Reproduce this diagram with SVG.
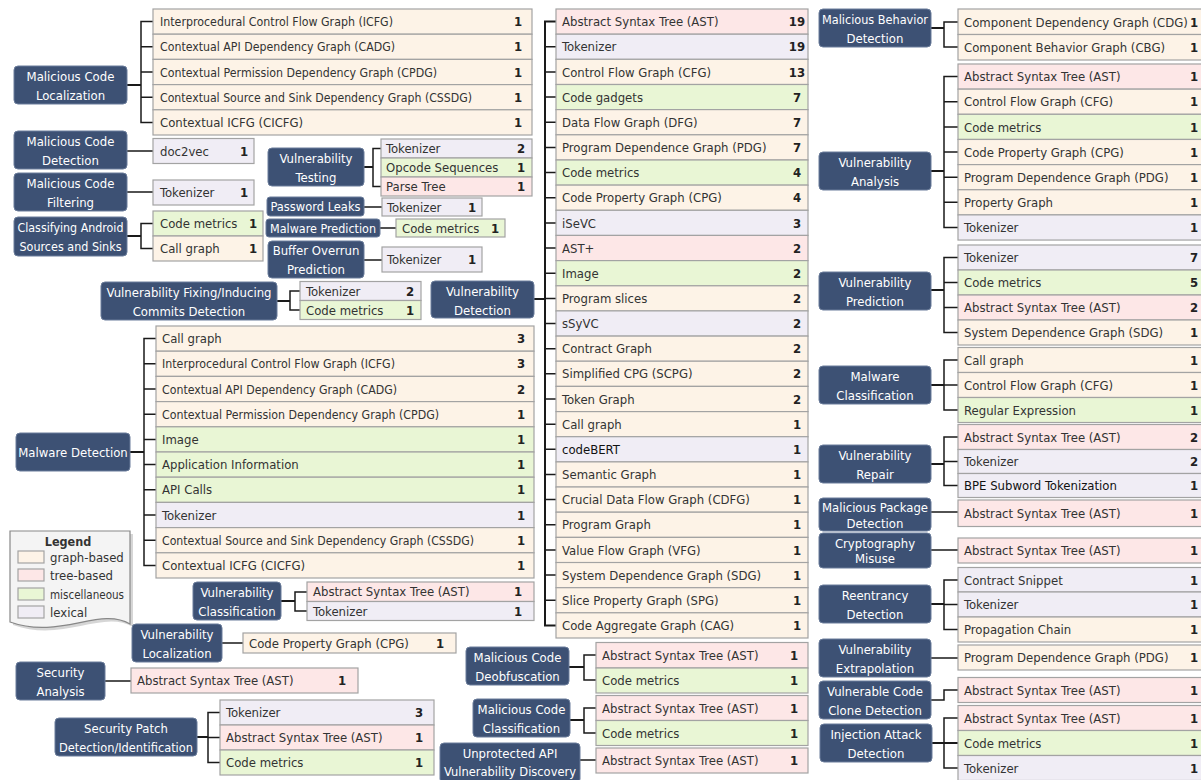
<svg xmlns="http://www.w3.org/2000/svg" width="1201" height="780" viewBox="0 0 1201 780">
<style>
text{font-family:"Liberation Sans Narrow","DejaVu Sans Condensed","Roboto Condensed",sans-serif;font-size:13px}
.g{fill:#fdf3e7;stroke:#a3a3a3;stroke-width:1.2}
.t{fill:#fde7e7;stroke:#a3a3a3;stroke-width:1.2}
.m{fill:#e9f6d5;stroke:#a3a3a3;stroke-width:1.2}
.l{fill:#f0edf5;stroke:#a3a3a3;stroke-width:1.2}
.nd{fill:#3d5174;stroke:#6b7d9b;stroke-width:1}
.nt{fill:#fff;text-anchor:middle}
.lb{fill:#333}
.ct{fill:#222;font-weight:bold;text-anchor:middle}
.cn{fill:none;stroke:#1a1a1a;stroke-width:1.5}
.nl{fill:none;stroke:#1a1a1a;stroke-width:2}
</style>

<g id="connectors">
<path class="cn" d="M153,21.6H141V122.4H153M141,46.8H153M141,72H153M141,97.2H153"/>
<path class="nl" d="M127,85H141"/>
<path class="cn" d="M127,151H153M127,192H153"/>
<path class="cn" d="M153,223.5H141V248.5H153"/>
<path class="nl" d="M127,236H141"/>
<path class="cn" d="M381,148.5H373V186.5H381"/>
<path class="nl" d="M364,167H373"/>
<path class="cn" d="M364,207H382M380,228H396M364,260H382"/>
<path class="cn" d="M300,291H290V310H300"/>
<path class="nl" d="M277,301H290"/>
<path class="nl" d="M556,21.6H545V625.4H556M534,299H545"/>
<path class="cn" d="M545,46.8H556M545,71.9H556M545,97.1H556M545,122.2H556M545,147.4H556M545,172.6H556M545,197.7H556M545,222.9H556M545,248H556M545,273.2H556M545,298.4H556M545,323.5H556M545,348.7H556M545,373.8H556M545,399H556M545,424.2H556M545,449.3H556M545,474.5H556M545,499.6H556M545,524.8H556M545,550H556M545,575.1H556M545,600.3H556"/>
<path class="cn" d="M156,338.6H144V565.4H156M144,363.8H156M144,389H156M144,414.2H156M144,439.4H156M144,464.6H156M144,489.8H156M144,515H156M144,540.2H156"/>
<path class="nl" d="M130,452H144"/>
<path class="cn" d="M307,592H295V611H307"/>
<path class="nl" d="M281,601H295"/>
<path class="cn" d="M222,643H243M105,681H131"/>
<path class="cn" d="M220,712.5H208V762.5H220M208,737.5H220"/>
<path class="nl" d="M197,737H208"/>
<path class="cn" d="M596,655H584V680H596M596,708H584V733H596"/>
<path class="nl" d="M569,667H584M570,720H584"/>
<path class="cn" d="M580,760H596"/>
<path class="cn" d="M958,22H944V47H958"/>
<path class="nl" d="M931,28H944"/>
<path class="cn" d="M958,76.6H944V227.5H958M944,101.7H958M944,126.9H958M944,152H958M944,177.2H958M944,202.3H958"/>
<path class="nl" d="M931,171H944"/>
<path class="cn" d="M958,257.5H944V332.5H958M944,282.5H958M944,307.5H958"/>
<path class="nl" d="M931,290H944"/>
<path class="cn" d="M958,360H944V410H958M944,385H958"/>
<path class="nl" d="M931,385H944"/>
<path class="cn" d="M958,437H944V485.5H958M944,461.5H958"/>
<path class="nl" d="M931,464H944"/>
<path class="cn" d="M931,512H958M931,550H958"/>
<path class="cn" d="M958,580H944V629.5H958M944,604.5H958"/>
<path class="nl" d="M931,604H944"/>
<path class="cn" d="M931,658H958M931,700H944V690H958"/>
<path class="cn" d="M958,718H944V768H958"/>
<path class="nl" d="M932,743H958"/>
</g>

<g id="n-mcl">
<rect class="nd" x="14" y="66" width="113" height="38" rx="4"/>
<text class="nt" x="70.5" y="81">Malicious Code</text><text class="nt" x="70.5" y="100">Localization</text>
<rect class="g" x="153" y="9" width="379" height="25.2"/><text class="lb" x="160" y="26.2" textLength="233" lengthAdjust="spacingAndGlyphs">Interprocedural Control Flow Graph (ICFG)</text><text class="ct" x="518" y="26.2">1</text>
<rect class="g" x="153" y="34.2" width="379" height="25.2"/><text class="lb" x="160" y="51.4" textLength="235" lengthAdjust="spacingAndGlyphs">Contextual API Dependency Graph (CADG)</text><text class="ct" x="518" y="51.4">1</text>
<rect class="g" x="153" y="59.4" width="379" height="25.2"/><text class="lb" x="160" y="76.6" textLength="277" lengthAdjust="spacingAndGlyphs">Contextual Permission Dependency Graph (CPDG)</text><text class="ct" x="518" y="76.6">1</text>
<rect class="g" x="153" y="84.6" width="379" height="25.2"/><text class="lb" x="160" y="101.8" textLength="312" lengthAdjust="spacingAndGlyphs">Contextual Source and Sink Dependency Graph (CSSDG)</text><text class="ct" x="518" y="101.8">1</text>
<rect class="g" x="153" y="109.8" width="379" height="25.2"/><text class="lb" x="160" y="127">Contextual ICFG (CICFG)</text><text class="ct" x="518" y="127">1</text>
</g>

<g id="n-mcd">
<rect class="nd" x="14" y="131" width="113" height="38" rx="4"/>
<text class="nt" x="70.5" y="146">Malicious Code</text><text class="nt" x="70.5" y="165">Detection</text>
<rect class="l" x="153" y="138.5" width="101" height="25"/><text class="lb" x="160" y="155.5">doc2vec</text><text class="ct" x="244" y="155.5">1</text>
</g>

<g id="n-mcf">
<rect class="nd" x="14" y="173" width="113" height="38" rx="4"/>
<text class="nt" x="70.5" y="188">Malicious Code</text><text class="nt" x="70.5" y="207">Filtering</text>
<rect class="l" x="153" y="180" width="101" height="25"/><text class="lb" x="160" y="197">Tokenizer</text><text class="ct" x="244" y="197">1</text>
</g>

<g id="n-cas">
<rect class="nd" x="14" y="217" width="113" height="39" rx="4"/>
<text class="nt" x="70.5" y="232" textLength="106" lengthAdjust="spacingAndGlyphs">Classifying Android</text><text class="nt" x="70.5" y="251" textLength="102" lengthAdjust="spacingAndGlyphs">Sources and Sinks</text>
<rect class="m" x="153" y="211" width="110" height="25"/><text class="lb" x="160" y="228">Code metrics</text><text class="ct" x="253" y="228">1</text>
<rect class="g" x="153" y="236" width="110" height="25"/><text class="lb" x="160" y="253">Call graph</text><text class="ct" x="253" y="253">1</text>
</g>

<g id="n-vt">
<rect class="nd" x="268" y="148" width="96" height="38" rx="4"/>
<text class="nt" x="316" y="163">Vulnerability</text><text class="nt" x="316" y="182">Testing</text>
<rect class="l" x="381" y="139" width="151" height="19"/><text class="lb" x="386" y="153">Tokenizer</text><text class="ct" x="521" y="153">2</text>
<rect class="m" x="381" y="158" width="151" height="19"/><text class="lb" x="386" y="172">Opcode Sequences</text><text class="ct" x="521" y="172">1</text>
<rect class="t" x="381" y="177" width="151" height="19"/><text class="lb" x="386" y="191">Parse Tree</text><text class="ct" x="521" y="191">1</text>
</g>

<g id="n-pl">
<rect class="nd" x="267" y="197" width="97" height="19" rx="3"/>
<text class="nt" x="315.5" y="211" textLength="90" lengthAdjust="spacingAndGlyphs">Password Leaks</text>
<rect class="l" x="382" y="198" width="100" height="18"/><text class="lb" x="387" y="211.5">Tokenizer</text><text class="ct" x="472" y="211.5">1</text>
</g>

<g id="n-mp">
<rect class="nd" x="266" y="219" width="114" height="18" rx="3"/>
<text class="nt" x="323" y="232.5" textLength="106" lengthAdjust="spacingAndGlyphs">Malware Prediction</text>
<rect class="m" x="396" y="219" width="109" height="18"/><text class="lb" x="402" y="232.5">Code metrics</text><text class="ct" x="495" y="232.5">1</text>
</g>

<g id="n-bop">
<rect class="nd" x="268" y="241" width="96" height="37" rx="4"/>
<text class="nt" x="316" y="255">Buffer Overrun</text><text class="nt" x="316" y="274">Prediction</text>
<rect class="l" x="382" y="247" width="100" height="25"/><text class="lb" x="387" y="264">Tokenizer</text><text class="ct" x="472" y="264">1</text>
</g>

<g id="n-vfi">
<rect class="nd" x="101" y="282" width="176" height="38" rx="4"/>
<text class="nt" x="189" y="297">Vulnerability Fixing/Inducing</text><text class="nt" x="189" y="316">Commits Detection</text>
<rect class="l" x="300" y="281.5" width="121" height="19"/><text class="lb" x="306" y="295.5">Tokenizer</text><text class="ct" x="410" y="295.5">2</text>
<rect class="m" x="300" y="300.5" width="121" height="19"/><text class="lb" x="306" y="314.5">Code metrics</text><text class="ct" x="410" y="314.5">1</text>
</g>

<g id="n-vd">
<rect class="nd" x="431" y="281" width="103" height="37" rx="4"/>
<text class="nt" x="482.5" y="296">Vulnerability</text><text class="nt" x="482.5" y="315">Detection</text>
<rect class="t" x="556" y="9" width="252" height="25.2"/><text class="lb" x="562" y="26.2">Abstract Syntax Tree (AST)</text><text class="ct" x="797" y="26.2">19</text>
<rect class="l" x="556" y="34.2" width="252" height="25.2"/><text class="lb" x="562" y="51.4">Tokenizer</text><text class="ct" x="797" y="51.4">19</text>
<rect class="g" x="556" y="59.3" width="252" height="25.2"/><text class="lb" x="562" y="76.5">Control Flow Graph (CFG)</text><text class="ct" x="797" y="76.5">13</text>
<rect class="m" x="556" y="84.5" width="252" height="25.2"/><text class="lb" x="562" y="101.7">Code gadgets</text><text class="ct" x="797" y="101.7">7</text>
<rect class="g" x="556" y="109.6" width="252" height="25.2"/><text class="lb" x="562" y="126.8">Data Flow Graph (DFG)</text><text class="ct" x="797" y="126.8">7</text>
<rect class="g" x="556" y="134.8" width="252" height="25.2"/><text class="lb" x="562" y="152">Program Dependence Graph (PDG)</text><text class="ct" x="797" y="152">7</text>
<rect class="m" x="556" y="160" width="252" height="25.2"/><text class="lb" x="562" y="177.2">Code metrics</text><text class="ct" x="797" y="177.2">4</text>
<rect class="g" x="556" y="185.1" width="252" height="25.2"/><text class="lb" x="562" y="202.3">Code Property Graph (CPG)</text><text class="ct" x="797" y="202.3">4</text>
<rect class="l" x="556" y="210.3" width="252" height="25.2"/><text class="lb" x="562" y="227.5">iSeVC</text><text class="ct" x="797" y="227.5">3</text>
<rect class="t" x="556" y="235.4" width="252" height="25.2"/><text class="lb" x="562" y="252.6">AST+</text><text class="ct" x="797" y="252.6">2</text>
<rect class="m" x="556" y="260.6" width="252" height="25.2"/><text class="lb" x="562" y="277.8">Image</text><text class="ct" x="797" y="277.8">2</text>
<rect class="g" x="556" y="285.8" width="252" height="25.2"/><text class="lb" x="562" y="303">Program slices</text><text class="ct" x="797" y="303">2</text>
<rect class="l" x="556" y="310.9" width="252" height="25.2"/><text class="lb" x="562" y="328.1">sSyVC</text><text class="ct" x="797" y="328.1">2</text>
<rect class="g" x="556" y="336.1" width="252" height="25.2"/><text class="lb" x="562" y="353.3">Contract Graph</text><text class="ct" x="797" y="353.3">2</text>
<rect class="g" x="556" y="361.2" width="252" height="25.2"/><text class="lb" x="562" y="378.4">Simplified CPG (SCPG)</text><text class="ct" x="797" y="378.4">2</text>
<rect class="g" x="556" y="386.4" width="252" height="25.2"/><text class="lb" x="562" y="403.6">Token Graph</text><text class="ct" x="797" y="403.6">2</text>
<rect class="g" x="556" y="411.6" width="252" height="25.2"/><text class="lb" x="562" y="428.8">Call graph</text><text class="ct" x="797" y="428.8">1</text>
<rect class="l" x="556" y="436.7" width="252" height="25.2"/><text class="lb" x="562" y="453.9" style="fill:#111">codeBERT</text><text class="ct" x="797" y="453.9">1</text>
<rect class="g" x="556" y="461.9" width="252" height="25.2"/><text class="lb" x="562" y="479.1">Semantic Graph</text><text class="ct" x="797" y="479.1">1</text>
<rect class="g" x="556" y="487" width="252" height="25.2"/><text class="lb" x="562" y="504.2">Crucial Data Flow Graph (CDFG)</text><text class="ct" x="797" y="504.2">1</text>
<rect class="g" x="556" y="512.2" width="252" height="25.2"/><text class="lb" x="562" y="529.4">Program Graph</text><text class="ct" x="797" y="529.4">1</text>
<rect class="g" x="556" y="537.4" width="252" height="25.2"/><text class="lb" x="562" y="554.6">Value Flow Graph (VFG)</text><text class="ct" x="797" y="554.6">1</text>
<rect class="g" x="556" y="562.5" width="252" height="25.2"/><text class="lb" x="562" y="579.7">System Dependence Graph (SDG)</text><text class="ct" x="797" y="579.7">1</text>
<rect class="g" x="556" y="587.7" width="252" height="25.2"/><text class="lb" x="562" y="604.9">Slice Property Graph (SPG)</text><text class="ct" x="797" y="604.9">1</text>
<rect class="g" x="556" y="612.8" width="252" height="25.2"/><text class="lb" x="562" y="630">Code Aggregate Graph (CAG)</text><text class="ct" x="797" y="630">1</text>
</g>

<g id="n-md">
<rect class="nd" x="16" y="433" width="114" height="38" rx="4"/>
<text class="nt" x="73" y="456.5">Malware Detection</text>
<rect class="g" x="156" y="326" width="378" height="25.2"/><text class="lb" x="162" y="343.2">Call graph</text><text class="ct" x="521" y="343.2">3</text>
<rect class="g" x="156" y="351.2" width="378" height="25.2"/><text class="lb" x="162" y="368.4" textLength="233" lengthAdjust="spacingAndGlyphs">Interprocedural Control Flow Graph (ICFG)</text><text class="ct" x="521" y="368.4">3</text>
<rect class="g" x="156" y="376.4" width="378" height="25.2"/><text class="lb" x="162" y="393.6" textLength="235" lengthAdjust="spacingAndGlyphs">Contextual API Dependency Graph (CADG)</text><text class="ct" x="521" y="393.6">2</text>
<rect class="g" x="156" y="401.6" width="378" height="25.2"/><text class="lb" x="162" y="418.8" textLength="277" lengthAdjust="spacingAndGlyphs">Contextual Permission Dependency Graph (CPDG)</text><text class="ct" x="521" y="418.8">1</text>
<rect class="m" x="156" y="426.8" width="378" height="25.2"/><text class="lb" x="162" y="444">Image</text><text class="ct" x="521" y="444">1</text>
<rect class="m" x="156" y="452" width="378" height="25.2"/><text class="lb" x="162" y="469.2">Application Information</text><text class="ct" x="521" y="469.2">1</text>
<rect class="m" x="156" y="477.2" width="378" height="25.2"/><text class="lb" x="162" y="494.4">API Calls</text><text class="ct" x="521" y="494.4">1</text>
<rect class="l" x="156" y="502.4" width="378" height="25.2"/><text class="lb" x="162" y="519.6">Tokenizer</text><text class="ct" x="521" y="519.6">1</text>
<rect class="g" x="156" y="527.6" width="378" height="25.2"/><text class="lb" x="162" y="544.8" textLength="312" lengthAdjust="spacingAndGlyphs">Contextual Source and Sink Dependency Graph (CSSDG)</text><text class="ct" x="521" y="544.8">1</text>
<rect class="g" x="156" y="552.8" width="378" height="25.2"/><text class="lb" x="162" y="570">Contextual ICFG (CICFG)</text><text class="ct" x="521" y="570">1</text>
</g>

<g id="legend">
<path d="M13,534H133V627C103,609 63,643 13,625Z" fill="#bbb" opacity="0.6"/>
<path d="M10,531H130V624C100,606 60,640 10,622Z" fill="#f4f4f4" stroke="#888" stroke-width="1.2"/>
<text x="68" y="546" text-anchor="middle" style="font-weight:bold;font-size:12.5px;fill:#333">Legend</text>
<rect class="g" x="18" y="551" width="26" height="12"/><text class="lb" x="50" y="561.5">graph-based</text>
<rect class="t" x="18" y="569" width="26" height="12"/><text class="lb" x="50" y="579.5">tree-based</text>
<rect class="m" x="18" y="588" width="26" height="12"/><text class="lb" x="50" y="598.5" textLength="74" lengthAdjust="spacingAndGlyphs">miscellaneous</text>
<rect class="l" x="18" y="606" width="26" height="12"/><text class="lb" x="50" y="616.5">lexical</text>
</g>

<g id="n-vc">
<rect class="nd" x="193" y="582" width="88" height="38" rx="4"/>
<text class="nt" x="237" y="597">Vulnerability</text><text class="nt" x="237" y="616">Classification</text>
<rect class="t" x="307" y="582" width="227" height="19.5"/><text class="lb" x="313" y="596">Abstract Syntax Tree (AST)</text><text class="ct" x="518" y="596">1</text>
<rect class="l" x="307" y="601.5" width="227" height="19"/><text class="lb" x="313" y="615.5">Tokenizer</text><text class="ct" x="518" y="615.5">1</text>
</g>

<g id="n-vl">
<rect class="nd" x="132" y="624" width="90" height="38" rx="4"/>
<text class="nt" x="177" y="639">Vulnerability</text><text class="nt" x="177" y="658">Localization</text>
<rect class="g" x="243" y="633" width="213" height="20"/><text class="lb" x="249" y="647.5">Code Property Graph (CPG)</text><text class="ct" x="440" y="647.5">1</text>
</g>

<g id="n-sa">
<rect class="nd" x="16" y="662" width="89" height="38" rx="4"/>
<text class="nt" x="60.5" y="677">Security</text><text class="nt" x="60.5" y="696">Analysis</text>
<rect class="t" x="131" y="668" width="227" height="25"/><text class="lb" x="137" y="685">Abstract Syntax Tree (AST)</text><text class="ct" x="342" y="685">1</text>
</g>

<g id="n-spd">
<rect class="nd" x="55" y="718" width="142" height="38" rx="4"/>
<text class="nt" x="126" y="733">Security Patch</text><text class="nt" x="126" y="752" textLength="134" lengthAdjust="spacingAndGlyphs">Detection/Identification</text>
<rect class="l" x="220" y="700" width="214" height="25"/><text class="lb" x="226" y="717">Tokenizer</text><text class="ct" x="419" y="717">3</text>
<rect class="t" x="220" y="725" width="214" height="25"/><text class="lb" x="226" y="742">Abstract Syntax Tree (AST)</text><text class="ct" x="419" y="742">1</text>
<rect class="m" x="220" y="750" width="214" height="25"/><text class="lb" x="226" y="767">Code metrics</text><text class="ct" x="419" y="767">1</text>
</g>

<g id="n-mcdo">
<rect class="nd" x="466" y="647" width="103" height="38" rx="4"/>
<text class="nt" x="517.5" y="662">Malicious Code</text><text class="nt" x="517.5" y="681">Deobfuscation</text>
<rect class="t" x="596" y="642.5" width="212" height="25.5"/><text class="lb" x="602" y="659.5">Abstract Syntax Tree (AST)</text><text class="ct" x="794" y="659.5">1</text>
<rect class="m" x="596" y="668" width="212" height="25"/><text class="lb" x="602" y="685">Code metrics</text><text class="ct" x="794" y="685">1</text>
</g>

<g id="n-mcc">
<rect class="nd" x="473" y="699" width="97" height="38" rx="4"/>
<text class="nt" x="521.5" y="714">Malicious Code</text><text class="nt" x="521.5" y="733">Classification</text>
<rect class="t" x="596" y="695.5" width="212" height="25"/><text class="lb" x="602" y="712.5">Abstract Syntax Tree (AST)</text><text class="ct" x="794" y="712.5">1</text>
<rect class="m" x="596" y="720.5" width="212" height="25"/><text class="lb" x="602" y="737.5">Code metrics</text><text class="ct" x="794" y="737.5">1</text>
</g>

<g id="n-uav">
<rect class="nd" x="440" y="743" width="140" height="40" rx="4"/>
<text class="nt" x="510" y="758">Unprotected API</text><text class="nt" x="510" y="776" textLength="132" lengthAdjust="spacingAndGlyphs">Vulnerability Discovery</text>
<rect class="t" x="596" y="748" width="212" height="25"/><text class="lb" x="602" y="765">Abstract Syntax Tree (AST)</text><text class="ct" x="794" y="765">1</text>
</g>

<g id="n-mbd">
<rect class="nd" x="819" y="9" width="112" height="38" rx="4"/>
<text class="nt" x="875" y="24" textLength="106" lengthAdjust="spacingAndGlyphs">Malicious Behavior</text><text class="nt" x="875" y="43">Detection</text>
<rect class="g" x="958" y="9" width="250" height="25.5"/><text class="lb" x="964" y="26.5">Component Dependency Graph (CDG)</text><text class="ct" x="1194" y="26.5">1</text>
<rect class="g" x="958" y="34.5" width="250" height="25.5"/><text class="lb" x="964" y="51.5">Component Behavior Graph (CBG)</text><text class="ct" x="1194" y="51.5">1</text>
</g>

<g id="n-va">
<rect class="nd" x="819" y="152" width="112" height="38" rx="4"/>
<text class="nt" x="875" y="167">Vulnerability</text><text class="nt" x="875" y="186">Analysis</text>
<rect class="t" x="958" y="64" width="250" height="25.15"/><text class="lb" x="964" y="81.2">Abstract Syntax Tree (AST)</text><text class="ct" x="1194" y="81.2">1</text>
<rect class="g" x="958" y="89.15" width="250" height="25.15"/><text class="lb" x="964" y="106.3">Control Flow Graph (CFG)</text><text class="ct" x="1194" y="106.3">1</text>
<rect class="m" x="958" y="114.3" width="250" height="25.15"/><text class="lb" x="964" y="131.5">Code metrics</text><text class="ct" x="1194" y="131.5">1</text>
<rect class="g" x="958" y="139.45" width="250" height="25.15"/><text class="lb" x="964" y="156.6">Code Property Graph (CPG)</text><text class="ct" x="1194" y="156.6">1</text>
<rect class="g" x="958" y="164.6" width="250" height="25.15"/><text class="lb" x="964" y="181.8">Program Dependence Graph (PDG)</text><text class="ct" x="1194" y="181.8">1</text>
<rect class="g" x="958" y="189.75" width="250" height="25.15"/><text class="lb" x="964" y="206.9">Property Graph</text><text class="ct" x="1194" y="206.9">1</text>
<rect class="l" x="958" y="214.9" width="250" height="25.15"/><text class="lb" x="964" y="232.1">Tokenizer</text><text class="ct" x="1194" y="232.1">1</text>
</g>

<g id="n-vp">
<rect class="nd" x="819" y="272" width="112" height="38" rx="4"/>
<text class="nt" x="875" y="287">Vulnerability</text><text class="nt" x="875" y="306">Prediction</text>
<rect class="l" x="958" y="245" width="250" height="25"/><text class="lb" x="964" y="262">Tokenizer</text><text class="ct" x="1194" y="262">7</text>
<rect class="m" x="958" y="270" width="250" height="25"/><text class="lb" x="964" y="287">Code metrics</text><text class="ct" x="1194" y="287">5</text>
<rect class="t" x="958" y="295" width="250" height="25"/><text class="lb" x="964" y="312">Abstract Syntax Tree (AST)</text><text class="ct" x="1194" y="312">2</text>
<rect class="g" x="958" y="320" width="250" height="25"/><text class="lb" x="964" y="337">System Dependence Graph (SDG)</text><text class="ct" x="1194" y="337">1</text>
</g>

<g id="n-mc">
<rect class="nd" x="819" y="366" width="112" height="38" rx="4"/>
<text class="nt" x="875" y="381">Malware</text><text class="nt" x="875" y="400">Classification</text>
<rect class="g" x="958" y="347.5" width="250" height="25"/><text class="lb" x="964" y="364.5">Call graph</text><text class="ct" x="1194" y="364.5">1</text>
<rect class="g" x="958" y="372.5" width="250" height="25"/><text class="lb" x="964" y="389.5">Control Flow Graph (CFG)</text><text class="ct" x="1194" y="389.5">1</text>
<rect class="m" x="958" y="397.5" width="250" height="25"/><text class="lb" x="964" y="414.5">Regular Expression</text><text class="ct" x="1194" y="414.5">1</text>
</g>

<g id="n-vr">
<rect class="nd" x="819" y="445" width="112" height="38" rx="4"/>
<text class="nt" x="875" y="460">Vulnerability</text><text class="nt" x="875" y="479">Repair</text>
<rect class="t" x="958" y="424.5" width="250" height="25"/><text class="lb" x="964" y="441.5">Abstract Syntax Tree (AST)</text><text class="ct" x="1194" y="441.5">2</text>
<rect class="l" x="958" y="449.5" width="250" height="24"/><text class="lb" x="964" y="466">Tokenizer</text><text class="ct" x="1194" y="466">2</text>
<rect class="l" x="958" y="473.5" width="250" height="24"/><text class="lb" x="964" y="490" style="fill:#111">BPE Subword Tokenization</text><text class="ct" x="1194" y="490">1</text>
</g>

<g id="n-mpd">
<rect class="nd" x="819" y="498" width="112" height="33" rx="4"/>
<text class="nt" x="875" y="512" textLength="106" lengthAdjust="spacingAndGlyphs">Malicious Package</text><text class="nt" x="875" y="527.5">Detection</text>
<rect class="t" x="958" y="500" width="250" height="26.5"/><text class="lb" x="964" y="517.5">Abstract Syntax Tree (AST)</text><text class="ct" x="1194" y="517.5">1</text>
</g>

<g id="n-cm">
<rect class="nd" x="819" y="533" width="112" height="35" rx="4"/>
<text class="nt" x="875" y="548">Cryptography</text><text class="nt" x="875" y="563">Misuse</text>
<rect class="t" x="958" y="538" width="250" height="25"/><text class="lb" x="964" y="555">Abstract Syntax Tree (AST)</text><text class="ct" x="1194" y="555">1</text>
</g>

<g id="n-rd">
<rect class="nd" x="819" y="585" width="112" height="38" rx="4"/>
<text class="nt" x="875" y="600">Reentrancy</text><text class="nt" x="875" y="619">Detection</text>
<rect class="l" x="958" y="567.5" width="250" height="24.5"/><text class="lb" x="964" y="584.5">Contract Snippet</text><text class="ct" x="1194" y="584.5">1</text>
<rect class="l" x="958" y="592" width="250" height="25"/><text class="lb" x="964" y="609">Tokenizer</text><text class="ct" x="1194" y="609">1</text>
<rect class="g" x="958" y="617" width="250" height="25"/><text class="lb" x="964" y="634">Propagation Chain</text><text class="ct" x="1194" y="634">1</text>
</g>

<g id="n-ve">
<rect class="nd" x="819" y="639" width="112" height="38" rx="4"/>
<text class="nt" x="875" y="654">Vulnerability</text><text class="nt" x="875" y="673">Extrapolation</text>
<rect class="g" x="958" y="645" width="250" height="25"/><text class="lb" x="964" y="662">Program Dependence Graph (PDG)</text><text class="ct" x="1194" y="662">1</text>
</g>

<g id="n-vcc">
<rect class="nd" x="819" y="681" width="112" height="38" rx="4"/>
<text class="nt" x="875" y="696">Vulnerable Code</text><text class="nt" x="875" y="715">Clone Detection</text>
<rect class="t" x="958" y="677.5" width="250" height="25"/><text class="lb" x="964" y="694.5">Abstract Syntax Tree (AST)</text><text class="ct" x="1194" y="694.5">1</text>
</g>

<g id="n-iad">
<rect class="nd" x="820" y="724" width="112" height="38" rx="4"/>
<text class="nt" x="876" y="739">Injection Attack</text><text class="nt" x="876" y="758">Detection</text>
<rect class="t" x="958" y="705.5" width="250" height="25"/><text class="lb" x="964" y="722.5">Abstract Syntax Tree (AST)</text><text class="ct" x="1194" y="722.5">1</text>
<rect class="m" x="958" y="730.5" width="250" height="25"/><text class="lb" x="964" y="747.5">Code metrics</text><text class="ct" x="1194" y="747.5">1</text>
<rect class="l" x="958" y="755.5" width="250" height="25"/><text class="lb" x="964" y="772.5">Tokenizer</text><text class="ct" x="1194" y="772.5">1</text>
</g>
</svg>
